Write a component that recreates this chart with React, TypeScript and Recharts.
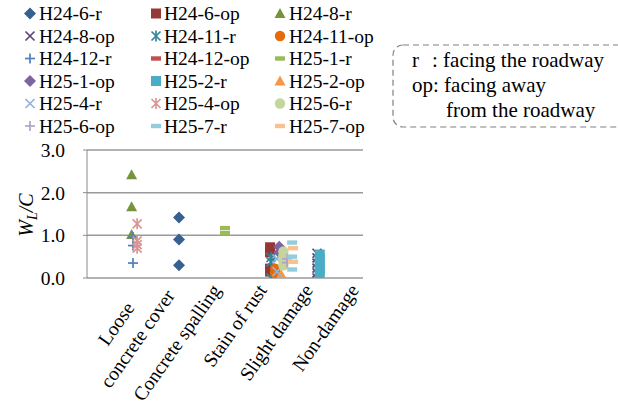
import React from "react";
import { ScatterChart, Scatter, XAxis, YAxis, CartesianGrid } from "recharts";

const FONT = '"Liberation Serif", "Times New Roman", serif';

// ---- categories / ticks ----
const categoryLabels = [
  "Loose\nconcrete cover",
  "Concrete spalling",
  "Stain of rust",
  "Slight damage",
  "Non-damage",
];
const categoryTicks = [1, 2, 3, 4, 5];
const yTicks = [0, 1, 2, 3];

// ---- series meta ----
const seriesNames = [
  "H24-6-r", "H24-6-op", "H24-8-r",
  "H24-8-op", "H24-11-r", "H24-11-op",
  "H24-12-r", "H24-12-op", "H25-1-r",
  "H25-1-op", "H25-2-r", "H25-2-op",
  "H25-4-r", "H25-4-op", "H25-6-r",
  "H25-6-op", "H25-7-r", "H25-7-op",
];
const seriesColors = [
  "#376092", "#953735", "#77933C",
  "#604A7B", "#31859C", "#E46C0A",
  "#4F81BD", "#C0504D", "#9BBB59",
  "#8064A2", "#4BACC6", "#F79646",
  "#95B3D7", "#D99694", "#C3D69B",
  "#B3A2C7", "#93CDDD", "#FAC090",
];
const seriesShapes = [
  "diamond", "square", "triangle",
  "x", "star", "circle",
  "plus", "dash", "dash",
  "diamond", "square", "triangle",
  "x", "star", "circle",
  "plus", "dash", "dash",
];

// ---- series values (x = category position, y = W_L/C) ----
const h24_6_r = [{ x: 2.0, y: 1.42 }, { x: 2.0, y: 0.9 }, { x: 2.0, y: 0.3 }];
const h24_6_op = [{ x: 3.98, y: 0.72 }, { x: 3.98, y: 0.6 }, { x: 3.98, y: 0.22 }, { x: 3.98, y: 0.15 }];
const h24_8_r = [{ x: 0.97, y: 2.42 }, { x: 0.97, y: 1.67 }, { x: 0.97, y: 1.02 }];
const h24_8_op = [
  { x: 5.0, y: 0.58 }, { x: 5.0, y: 0.47 }, { x: 5.0, y: 0.35 },
  { x: 5.0, y: 0.23 }, { x: 5.0, y: 0.12 }, { x: 5.0, y: 0.0 }, { x: 4.12, y: 0.02 },
];
const h24_11_r = [{ x: 4.0, y: 0.48 }, { x: 4.0, y: 0.38 }, { x: 4.0, y: 0.0 }];
const h24_11_op = [{ x: 4.09, y: 0.22 }, { x: 4.09, y: 0.12 }];
const h24_12_r = [{ x: 1.0, y: 0.96 }, { x: 1.0, y: 0.76 }, { x: 1.0, y: 0.35 }];
const h24_12_op: { x: number; y: number }[] = [];
const h25_1_r = [{ x: 3.0, y: 1.17 }, { x: 3.0, y: 1.05 }];
const h25_1_op = [{ x: 4.18, y: 0.73 }, { x: 4.18, y: 0.6 }];
const h25_2_r = [
  { x: 5.06, y: 0.55 }, { x: 5.06, y: 0.45 }, { x: 5.06, y: 0.3 },
  { x: 5.06, y: 0.2 }, { x: 5.06, y: 0.08 },
];
const h25_2_op = [{ x: 4.22, y: 0.08 }, { x: 4.26, y: 0.0 }];
const h25_4_r = [{ x: 4.13, y: 0.45 }, { x: 4.13, y: 0.15 }];
const h25_4_op = [{ x: 1.09, y: 1.27 }, { x: 1.09, y: 0.87 }, { x: 1.09, y: 0.78 }, { x: 1.09, y: 0.7 }];
const h25_6_r = [{ x: 4.27, y: 0.62 }, { x: 4.27, y: 0.52 }, { x: 4.27, y: 0.4 }, { x: 4.27, y: 0.3 }];
const h25_6_op = [{ x: 4.35, y: 0.45 }, { x: 4.35, y: 0.36 }];
const h25_7_r = [{ x: 4.46, y: 0.83 }, { x: 4.46, y: 0.5 }, { x: 4.46, y: 0.2 }];
const h25_7_op = [{ x: 4.48, y: 0.7 }, { x: 4.48, y: 0.38 }];

const seriesData = [
  h24_6_r, h24_6_op, h24_8_r,
  h24_8_op, h24_11_r, h24_11_op,
  h24_12_r, h24_12_op, h25_1_r,
  h25_1_op, h25_2_r, h25_2_op,
  h25_4_r, h25_4_op, h25_6_r,
  h25_6_op, h25_7_r, h25_7_op,
];

const noteLines = ["r", ": facing the roadway", "op: facing away", "from the roadway"];

// ---- marker drawing ----
function Marker({ shape, cx, cy, color }: { shape: string; cx: number; cy: number; color: string }) {
  if (cx == null || cy == null || isNaN(cx) || isNaN(cy)) return null;
  const sw = 1.7;
  switch (shape) {
    case "diamond":
      return <polygon points={`${cx},${cy - 6} ${cx + 6},${cy} ${cx},${cy + 6} ${cx - 6},${cy}`} fill={color} />;
    case "square":
      return <rect x={cx - 5} y={cy - 5} width={10} height={10} fill={color} />;
    case "triangle":
      return <polygon points={`${cx},${cy - 5.5} ${cx + 5.5},${cy + 4.5} ${cx - 5.5},${cy + 4.5}`} fill={color} />;
    case "x":
      return (
        <g stroke={color} strokeWidth={sw}>
          <line x1={cx - 4.5} y1={cy - 4.5} x2={cx + 4.5} y2={cy + 4.5} />
          <line x1={cx - 4.5} y1={cy + 4.5} x2={cx + 4.5} y2={cy - 4.5} />
        </g>
      );
    case "star":
      return (
        <g stroke={color} strokeWidth={sw}>
          <line x1={cx - 4.5} y1={cy - 4.5} x2={cx + 4.5} y2={cy + 4.5} />
          <line x1={cx - 4.5} y1={cy + 4.5} x2={cx + 4.5} y2={cy - 4.5} />
          <line x1={cx} y1={cy - 5.5} x2={cx} y2={cy + 5.5} />
        </g>
      );
    case "circle":
      return <circle cx={cx} cy={cy} r={5.2} fill={color} />;
    case "plus":
      return (
        <g stroke={color} strokeWidth={sw}>
          <line x1={cx - 5} y1={cy} x2={cx + 5} y2={cy} />
          <line x1={cx} y1={cy - 5} x2={cx} y2={cy + 5} />
        </g>
      );
    case "dash":
      return <rect x={cx - 5} y={cy - 2.2} width={10} height={4.4} fill={color} />;
    default:
      return null;
  }
}

// ---- text measuring for multi-line rotated labels ----
let measureCtx: CanvasRenderingContext2D | null = null;
function measureText(t: string, fs: number) {
  if (!measureCtx) {
    const c = document.createElement("canvas");
    measureCtx = c.getContext("2d");
  }
  if (!measureCtx) return t.length * fs * 0.45;
  measureCtx.font = `${fs}px "Liberation Serif"`;
  return measureCtx.measureText(t).width;
}

const TICK_FS = 19.5;
const ANGLE = 55;

function CategoryTick(props: any) {
  const { x, y, payload } = props;
  const idx = categoryTicks.indexOf(payload.value);
  if (idx < 0) return null;
  const lines = categoryLabels[idx].split("\n");
  const n = lines.length;
  const a = (ANGLE * Math.PI) / 180;
  const u = [Math.cos(a), -Math.sin(a)]; // along the text
  const v = [Math.sin(a), Math.cos(a)]; // towards the next line
  const lineGap = 26;
  const endU = n > 1 ? 10 : 14.5; // end of the longest line, along u
  const lastV = n > 1 ? 45 : 42; // baseline of last line, along v
  const widths = lines.map((l) => measureText(l, TICK_FS));
  const maxW = Math.max(...widths);
  return (
    <g>
      {lines.map((ln, i) => {
        const vv = lastV - (n - 1 - i) * lineGap;
        const uu = endU - (maxW - widths[i]) / 2;
        const ex = x + u[0] * uu + v[0] * vv;
        const ey = y + u[1] * uu + v[1] * vv;
        return (
          <text
            key={i}
            x={ex}
            y={ey}
            textAnchor="end"
            transform={`rotate(-${ANGLE} ${ex} ${ey})`}
            fontFamily={FONT}
            fontSize={TICK_FS}
            fill="#000"
          >
            {ln}
          </text>
        );
      })}
    </g>
  );
}

function LegendOverlay() {
  const colMarker = [30, 156, 280];
  const colText = [39, 164, 289];
  return (
    <g>
      {seriesNames.map((name, i) => {
        const col = i % 3;
        const row = Math.floor(i / 3);
        const cy = 13.5 + row * 22.5;
        return (
          <g key={name}>
            <Marker shape={seriesShapes[i]} cx={colMarker[col]} cy={cy} color={seriesColors[i]} />
            <text x={colText[col]} y={cy + 6.5} fontFamily={FONT} fontSize={19.5} fill="#000">
              {name}
            </text>
          </g>
        );
      })}
    </g>
  );
}

function NoteBox() {
  return (
    <g fontFamily={FONT} fontSize={21} fill="#000">
      <rect x={393} y={45} width={240} height={82} rx={10} ry={10} fill="none" stroke="#808080" strokeWidth={1.2} strokeDasharray="6 4" />
      <text x={412} y={67}>{noteLines[0]}</text>
      <text x={432} y={67}>{noteLines[1]}</text>
      <text x={412} y={92}>{noteLines[2]}</text>
      <text x={446} y={117}>{noteLines[3]}</text>
    </g>
  );
}

function YLabel() {
  const x = 33;
  const y = 215;
  return (
    <text x={x} y={y} transform={`rotate(-90 ${x} ${y})`} textAnchor="middle" fontFamily={FONT} fontSize={20} fontStyle="italic" fill="#000">
      W
      <tspan dy={4} fontSize={14}>L</tspan>
      <tspan dy={-4}>/C</tspan>
    </text>
  );
}

export default function App() {
  return (
    <div style={{ position: "relative", width: 618, height: 417, background: "#fff" }}>
      <style>{"body{margin:0;}"}</style>
      <ScatterChart width={618} height={417} margin={{ top: 150, right: 255, bottom: 0, left: 0 }}>
        <CartesianGrid horizontal vertical={false} stroke="#9a9a9a" strokeWidth={1.5} />
        <XAxis
          type="number"
          dataKey="x"
          domain={[0, 6]}
          ticks={categoryTicks}
          interval={0}
          axisLine={false}
          tickLine={false}
          tickSize={0}
          tickMargin={0}
          height={139}
          tick={<CategoryTick />}
          allowDataOverflow
        />
        <YAxis
          type="number"
          dataKey="y"
          domain={[0, 3]}
          ticks={yTicks}
          interval={0}
          width={87}
          tickFormatter={(v: number) => v.toFixed(1)}
          axisLine={{ stroke: "#8c8c8c", strokeWidth: 1 }}
          tickLine={{ stroke: "#8c8c8c", strokeWidth: 1 }}
          tickSize={4}
          tickMargin={18}
          tick={{ fontFamily: FONT, fontSize: 19.5, fill: "#000" }}
          allowDataOverflow
        />
        {seriesData.map((d, i) => (
          <Scatter
            key={seriesNames[i]}
            name={seriesNames[i]}
            data={d}
            isAnimationActive={false}
            shape={(p: any) => <Marker shape={seriesShapes[i]} cx={p.cx} cy={p.cy} color={seriesColors[i]} />}
          />
        ))}
      </ScatterChart>
      <svg width={618} height={417} style={{ position: "absolute", left: 0, top: 0, pointerEvents: "none" }}>
        <LegendOverlay />
        <NoteBox />
        <YLabel />
      </svg>
    </div>
  );
}
